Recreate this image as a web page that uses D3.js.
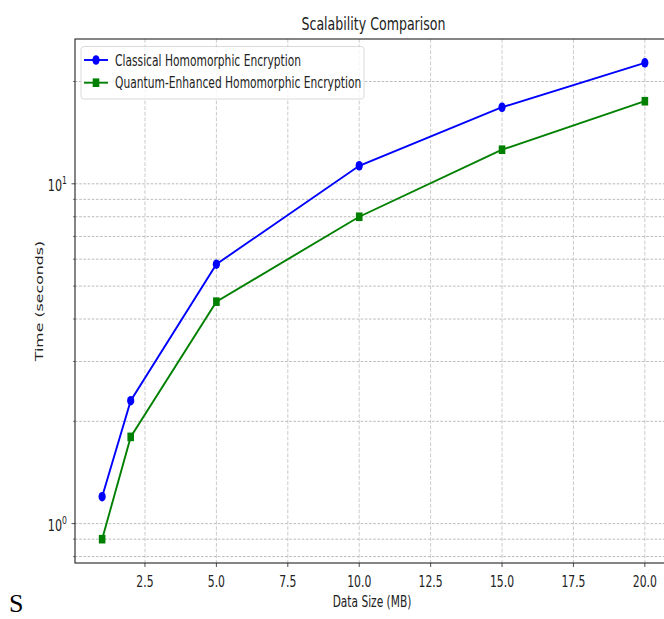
<!DOCTYPE html>
<html>
<head>
<meta charset="utf-8">
<script src="https://cdn.jsdelivr.net/npm/d3@7.9.0/dist/d3.min.js"></script>
<style>
  body { margin: 0; background: #fff; }
  svg { display: block; font-family: "DejaVu Sans", sans-serif; }
</style>
</head>
<body>
<svg id="chart" width="664" height="619"></svg>
<script>
// data
const dataSizes = [1, 2, 5, 10, 15, 20];
const classicalTimes = [1.2, 2.3, 5.8, 11.3, 16.8, 22.7];
const quantumTimes = [0.9, 1.8, 4.5, 8.0, 12.6, 17.5];
const seriesNames = ['Classical Homomorphic Encryption', 'Quantum-Enhanced Homomorphic Encryption'];
const xTicks = [2.5, 5.0, 7.5, 10.0, 12.5, 15.0, 17.5, 20.0];

const sx = 0.7; // the picture is squeezed sideways
const svg = d3.select('#chart');
const pLeft = 75, pRight = 672, pTop = 39, pBottom = 563;

// matplotlib-like 5% margins (log space for y)
const xr = d3.extent(dataSizes);
const xpad = (xr[1] - xr[0]) * 0.05;
const x = d3.scaleLinear().domain([xr[0] - xpad, xr[1] + xpad]).range([pLeft, pRight]);
const allY = classicalTimes.concat(quantumTimes);
const ly = d3.extent(allY).map(Math.log10);
const lpad = (ly[1] - ly[0]) * 0.05;
const y = d3.scaleLog().domain([10 ** (ly[0] - lpad), 10 ** (ly[1] + lpad)]).range([pBottom, pTop]);

function label(g, tx, ty, str, size, anchor, rot) {
  return g.append('text')
    .attr('transform', `translate(${tx},${ty}) scale(${sx},1)` + (rot ? ` rotate(${rot})` : ''))
    .attr('text-anchor', anchor)
    .attr('font-size', size)
    .attr('fill', '#222')
    .text(str);
}

// grid
const grid = svg.append('g');
const yGrid = y.ticks().filter(v => v >= y.domain()[0] && v <= y.domain()[1]);
grid.selectAll('.hg').data(yGrid).enter().append('line')
  .attr('x1', pLeft).attr('x2', pRight)
  .attr('y1', d => y(d)).attr('y2', d => y(d))
  .attr('stroke', '#b4b4b4').attr('stroke-width', 0.9)
  .attr('stroke-dasharray', '2.6,1.6');
grid.selectAll('.vg').data(xTicks).enter().append('line')
  .attr('x1', d => x(d)).attr('x2', d => x(d))
  .attr('y1', pTop).attr('y2', pBottom)
  .attr('stroke', '#b4b4b4').attr('stroke-width', 0.7)
  .attr('stroke-dasharray', '3.8,1.8');

// spines
svg.append('rect').attr('x', pLeft).attr('y', pTop)
  .attr('width', pRight - pLeft).attr('height', pBottom - pTop)
  .attr('fill', 'none').attr('stroke', '#222').attr('stroke-width', 1.1);

// x ticks
const xt = svg.append('g');
xTicks.forEach(v => {
  xt.append('line').attr('x1', x(v)).attr('x2', x(v)).attr('y1', pBottom).attr('y2', pBottom + 4)
    .attr('stroke', '#222').attr('stroke-width', 0.8);
  label(xt, x(v), 587, v.toFixed(1), 15.5, 'middle');
});

// y ticks
const yt = svg.append('g');
yGrid.forEach(v => {
  const major = Math.abs(Math.log10(v) - Math.round(Math.log10(v))) < 1e-9;
  yt.append('line').attr('x1', pLeft - (major ? 3.5 : 2)).attr('x2', pLeft)
    .attr('y1', y(v)).attr('y2', y(v))
    .attr('stroke', '#222').attr('stroke-width', major ? 0.8 : 0.6);
  if (major) {
    const t = label(yt, 67, y(v) + 7, '', 16, 'end');
    t.append('tspan').text('10');
    t.append('tspan').attr('dy', -7).attr('font-size', 11).text(Math.round(Math.log10(v)));
  }
});

// axis labels and title
label(svg, (pLeft + pRight) / 2, 30, 'Scalability Comparison', 18, 'middle');
label(svg, 372, 607, 'Data Size (MB)', 15.2, 'middle');
label(svg, 43, (pTop + pBottom) / 2, 'Time (seconds)', 15.8, 'middle', -90);

// series
const line = d3.line().x(d => x(d[0])).y(d => y(d[1]));
const series = [
  { name: seriesNames[0], values: classicalTimes, color: '#0000ff', marker: 'circle' },
  { name: seriesNames[1], values: quantumTimes, color: '#008000', marker: 'square' }
];
function marker(g, cx, cy, s) {
  if (s.marker === 'circle') {
    g.append('ellipse').attr('cx', cx).attr('cy', cy).attr('rx', 3.6).attr('ry', 4.8).attr('fill', s.color);
  } else {
    g.append('rect').attr('x', cx - 3.3).attr('y', cy - 4.3).attr('width', 6.6).attr('height', 8.6).attr('fill', s.color);
  }
}
series.forEach(s => {
  const pts = dataSizes.map((d, i) => [d, s.values[i]]);
  svg.append('path').attr('d', line(pts)).attr('fill', 'none')
    .attr('stroke', s.color).attr('stroke-width', 1.9);
  const mg = svg.append('g');
  pts.forEach(p => marker(mg, x(p[0]), y(p[1]), s));
});

// legend
const lg = svg.append('g');
lg.append('rect').attr('x', 81).attr('y', 46.5).attr('width', 283).attr('height', 52.5)
  .attr('rx', 3).attr('fill', 'rgba(255,255,255,0.8)').attr('stroke', '#d6d6d6').attr('stroke-width', 0.9);
series.forEach((s, i) => {
  const cy = 60 + i * 22.7;
  lg.append('line').attr('x1', 84).attr('x2', 108).attr('y1', cy).attr('y2', cy)
    .attr('stroke', s.color).attr('stroke-width', 1.9);
  marker(lg, 96, cy, s);
  label(lg, 115, cy + 5.5, s.name, 15.3, 'start');
});

// stray glyph at the bottom left of the picture
svg.append('text').attr('x', 9).attr('y', 612)
  .attr('font-family', '"Liberation Serif", serif').attr('font-size', 26)
  .attr('fill', '#000').text('S');
</script>
</body>
</html>
